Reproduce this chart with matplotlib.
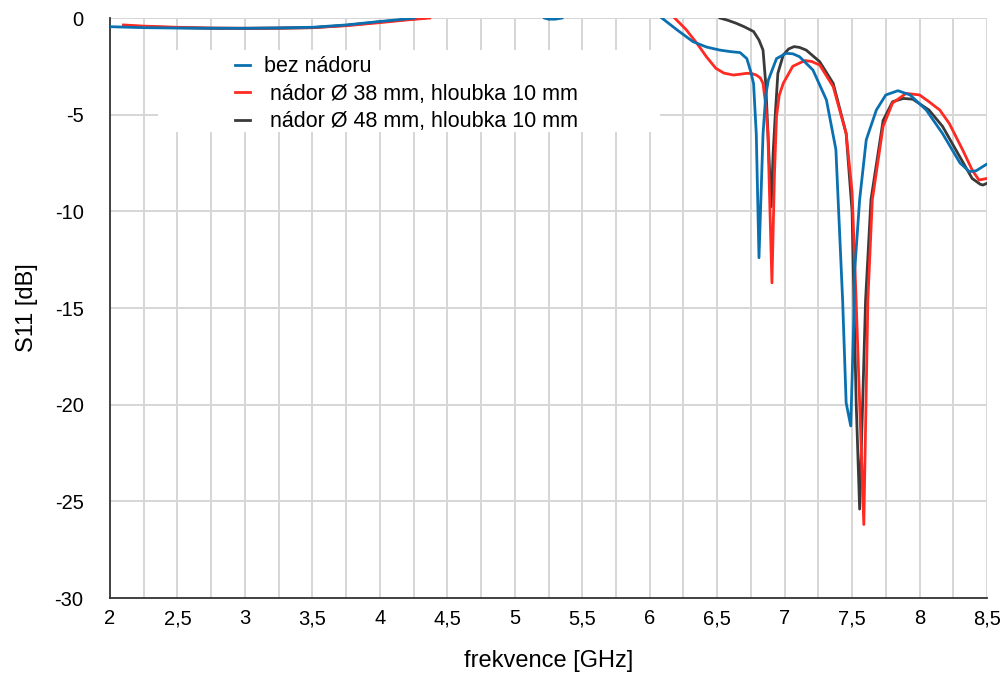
import numpy as np
import matplotlib
matplotlib.use("Agg")
import matplotlib.pyplot as plt
from matplotlib.patches import Rectangle

plt.rcParams['font.family'] = ['Liberation Sans', 'DejaVu Sans']
plt.rcParams['axes.unicode_minus'] = False

nan = np.nan

# S11 of the antenna without a tumour (NaN splits the parts that lie above 0 dB)
f_bez = [2.0, 2.25, 2.5, 2.75, 3.0, 3.25, 3.5, 3.75, 4.0, 4.15, 4.26, nan,
         5.22, 5.25, 5.3, 5.35, nan,
         6.09, 6.2, 6.32, 6.42, 6.52, 6.6, 6.67, 6.72, 6.75, 6.77, 6.79, 6.81,
         6.84, 6.86, 6.88, 6.94, 7.01, 7.06, 7.11, 7.21, 7.31, 7.38, 7.43,
         7.456, 7.49, 7.51, 7.52, 7.556, 7.605, 7.68, 7.75, 7.84, 7.93, 8.05,
         8.17, 8.3, 8.37, 8.42, 8.5]
s_bez = [-0.45, -0.5, -0.52, -0.53, -0.53, -0.51, -0.48, -0.36, -0.18, -0.08, 0.0, nan,
         0.0, -0.06, -0.06, 0.0, nan,
         0.0, -0.6, -1.22, -1.5, -1.66, -1.74, -1.79, -2.1, -2.8, -3.4, -6.0, -12.4,
         -6.0, -4.0, -3.2, -2.1, -1.83, -1.85, -2.0, -2.69, -4.24, -6.8, -14.6,
         -19.9, -21.1, -16.3, -13.0, -9.4, -6.3, -4.76, -3.98, -3.76, -3.98, -4.76,
         -5.97, -7.5, -7.95, -7.9, -7.55]

# tumour 38 mm, depth 10 mm
f_38 = [2.1, 2.25, 2.5, 2.75, 3.0, 3.25, 3.5, 3.75, 4.0, 4.2, 4.37, nan,
        6.185, 6.27, 6.35, 6.42, 6.49, 6.55, 6.62, 6.68, 6.72, 6.76, 6.79, 6.82,
        6.84, 6.86, 6.876, 6.906, 6.925, 6.94, 6.96, 6.99, 7.06, 7.15, 7.2, 7.26,
        7.36, 7.456, 7.5, 7.53, 7.587, 7.617, 7.65, 7.73, 7.8, 7.9, 8.0, 8.07,
        8.15, 8.22, 8.32, 8.39, 8.44, 8.5]
s_38 = [-0.36, -0.42, -0.48, -0.52, -0.53, -0.52, -0.5, -0.4, -0.24, -0.1, 0.0, nan,
        0.0, -0.6, -1.31, -2.0, -2.6, -2.85, -2.95, -2.9, -2.86, -2.88, -2.95, -3.1,
        -3.38, -4.5, -5.97, -13.7, -8.0, -5.1, -4.0, -3.38, -2.5, -2.2, -2.25, -2.43,
        -3.55, -5.97, -9.0, -14.6, -26.2, -14.6, -9.4, -5.6, -4.4, -3.9, -3.98, -4.33,
        -4.76, -5.45, -6.83, -7.86, -8.38, -8.3]

# tumour 48 mm, depth 10 mm
f_48 = [2.1, 2.25, 2.5, 2.75, 3.0, 3.25, 3.5, 3.75, 4.0, 4.2, 4.33, nan,
        6.52, 6.58, 6.64, 6.7, 6.77, 6.81, 6.84, 6.86, 6.88, 6.9, 6.915, 6.93,
        6.95, 6.99, 7.03, 7.07, 7.11, 7.16, 7.26, 7.36, 7.456, 7.5, 7.53, 7.556,
        7.6, 7.64, 7.73, 7.8, 7.88, 7.95, 8.07, 8.17, 8.27, 8.39, 8.45, 8.47, 8.5]
s_48 = [-0.4, -0.45, -0.5, -0.53, -0.54, -0.53, -0.5, -0.38, -0.2, -0.08, 0.0, nan,
        0.0, -0.12, -0.27, -0.45, -0.7, -1.14, -1.66, -3.4, -6.5, -9.76, -7.0, -5.1,
        -2.86, -1.91, -1.6, -1.48, -1.52, -1.66, -2.26, -3.38, -5.97, -10.0, -19.8, -25.4,
        -14.6, -9.4, -5.3, -4.33, -4.16, -4.2, -4.76, -5.6, -6.83, -8.3, -8.6, -8.64, -8.55]

labels = ["bez nádoru", " nádor Ø 38 mm, hloubka 10 mm", " nádor Ø 48 mm, hloubka 10 mm"]
x_ticks = [2, 2.5, 3, 3.5, 4, 4.5, 5, 5.5, 6, 6.5, 7, 7.5, 8, 8.5]
x_ticklabels = ["2", "2,5", "3", "3,5", "4", "4,5", "5", "5,5", "6", "6,5", "7", "7,5", "8", "8,5"]
y_ticks = [0, -5, -10, -15, -20, -25, -30]

c_blue = "#0A70B0"
c_red = "#FF2A22"
c_dark = "#3A3A3A"

fig = plt.figure(figsize=(10.06, 6.74), dpi=100)
ax = fig.add_axes([110 / 1006, 1 - 598 / 674, 877 / 1006, 580 / 674])

ax.set_xlim(2, 8.5)
ax.set_ylim(-30, 0)

# grid: every 0.25 GHz and every 5 dB
for xv in np.arange(2.25, 8.5001, 0.25):
    ax.axvline(xv, color="#cfcfcf", lw=1.2, zorder=0)
for yv in y_ticks[:-1]:
    ax.axhline(yv, color="#d6d6d6", lw=1.4, zorder=0)

ln_dark, = ax.plot(f_48, s_48, color=c_dark, lw=2.0, zorder=3, label=labels[2])
ln_red, = ax.plot(f_38, s_38, color=c_red, lw=2.0, zorder=4, label=labels[1])
ln_blue, = ax.plot(f_bez, s_bez, color=c_blue, lw=2.0, zorder=5, label=labels[0])

# white block behind the legend
ax.add_patch(Rectangle((48 / 877, (598 - 132) / 580), (660 - 158) / 877, 82 / 580,
                       transform=ax.transAxes, facecolor="white", edgecolor="none",
                       zorder=1))
leg = ax.legend([ln_blue, ln_red, ln_dark], labels, loc="upper left",
                bbox_to_anchor=((235 - 110) / 877, (598 - 56.5) / 580),
                frameon=False, fontsize=15.5, handlelength=0.7, handletextpad=0.65,
                labelspacing=0.3, borderaxespad=0, borderpad=0)
leg.set_zorder(6)

for side in ("top", "right"):
    ax.spines[side].set_visible(False)
for side in ("left", "bottom"):
    ax.spines[side].set_color("#333333")
    ax.spines[side].set_linewidth(1.3)

ax.set_xticks(x_ticks)
ax.set_xticklabels(x_ticklabels)
ax.set_yticks(y_ticks)
ax.tick_params(axis="x", length=0, pad=8, labelsize=14.5)
ax.tick_params(axis="y", length=0, pad=19, labelsize=14.5)

ax.set_xlabel("frekvence [GHz]", fontsize=17, labelpad=16)
ax.set_ylabel("S11 [dB]", fontsize=17, labelpad=12)

fig.savefig("out.png", dpi=100)
